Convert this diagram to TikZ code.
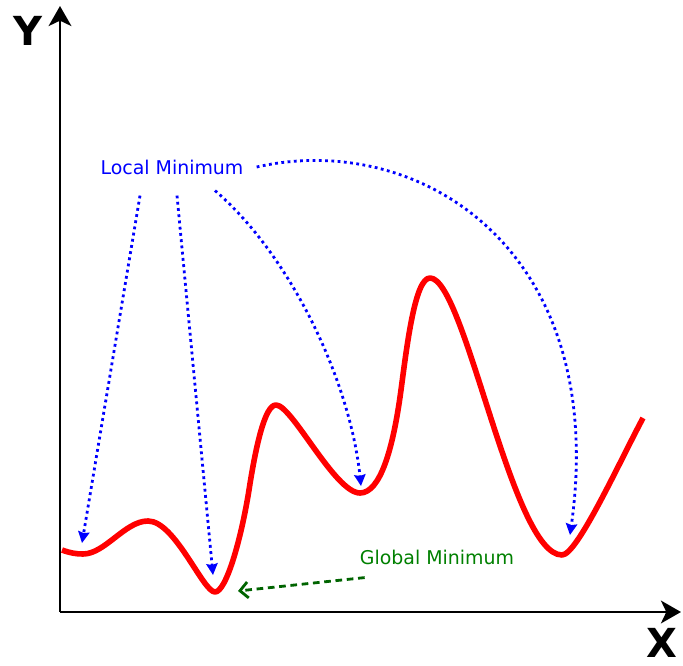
\documentclass[tikz,border=0pt]{standalone}
\usepackage{fontspec}
\setmainfont{DejaVu Sans}
\usetikzlibrary{arrows.meta,calc}
\definecolor{LMRed}{HTML}{FF0000}
\definecolor{LMBlue}{HTML}{0000FF}
\definecolor{LMGreen}{HTML}{008000}
\definecolor{LMDarkGreen}{HTML}{006400}

\begin{document}
\begin{tikzpicture}[x=0.75pt,y=-0.75pt,
  axis/.style={line width=2.2pt,-{Stealth[length=15pt,width=17pt,inset=4pt]}},
  curve/.style={LMRed,line width=4.2pt,line join=round},
  hint/.style={LMBlue,line width=2.1pt,dash pattern=on 2.1pt off 2.6pt,-{Stealth[length=8.5pt,width=8.5pt,inset=1pt]}},
  globalhint/.style={LMDarkGreen,line width=2.1pt,dash pattern=on 5pt off 3.5pt,-{Straight Barb[length=6pt,width=12pt]}},
  lbl/.style={inner sep=0pt,font=\fontsize{14.2}{17}\selectfont},
  axislbl/.style={inner sep=0pt,font=\fontsize{30}{30}\selectfont\bfseries}]
\path[use as bounding box] (0,0) rectangle (683,666);
% axes
\coordinate (origin) at (60,612);
\coordinate (ytip) at (60,6);
\coordinate (xtip) at (681,612);
\draw[axis] (origin) -- (ytip);
\draw[axis] (origin) -- (xtip);
\node[axislbl] (ylbl) at (28,31) {Y};
\node[axislbl] (xlbl) at (662,643) {X};
% the function, beziers between extrema (steep rises split once)
\draw[curve] (62,550) .. controls (70,553) and (76,554) .. (83,554)
  .. controls (105,554) and (125,521) .. (148,521)
  .. controls (175,521) and (203,592) .. (215,592)
  .. controls (226,592) and (241,540) .. (249,490)
  .. controls (256,445) and (265,405) .. (276,405)
  .. controls (292,405) and (335,493) .. (360,493)
  .. controls (380,493) and (393,450) .. (401,390)
  .. controls (407,345) and (415,278) .. (430,278)
  .. controls (465,278) and (512,555) .. (562,555)
  .. controls (577,555) and (618,465) .. (643,418);
% minima
\coordinate (lmin1) at (82,543);
\coordinate (gmintip) at (213,575);
\coordinate (lmin2) at (361,486);
\coordinate (lmin3) at (570,535);
\coordinate (gmin) at (238,591);
% labels
\node[lbl,text=LMBlue] (local) at (172,167) {Local Minimum};
\node[lbl,text=LMGreen] (global) at (437,557) {Global Minimum};
\draw[hint] ($(local.south)+(-32,21)$) -- (lmin1);
\draw[hint] ($(local.south)+(5,21)$) -- (gmintip);
\draw[hint] ($(local.south)+(43,16)$) .. controls (290,255) and (350,380) .. (lmin2);
\draw[hint] ($(local.east)+(13,0)$) .. controls (420,130) and (610,250) .. (lmin3);
\draw[globalhint] ($(global.south west)+(5,13)$) -- (gmin);
\end{tikzpicture}
\end{document}
